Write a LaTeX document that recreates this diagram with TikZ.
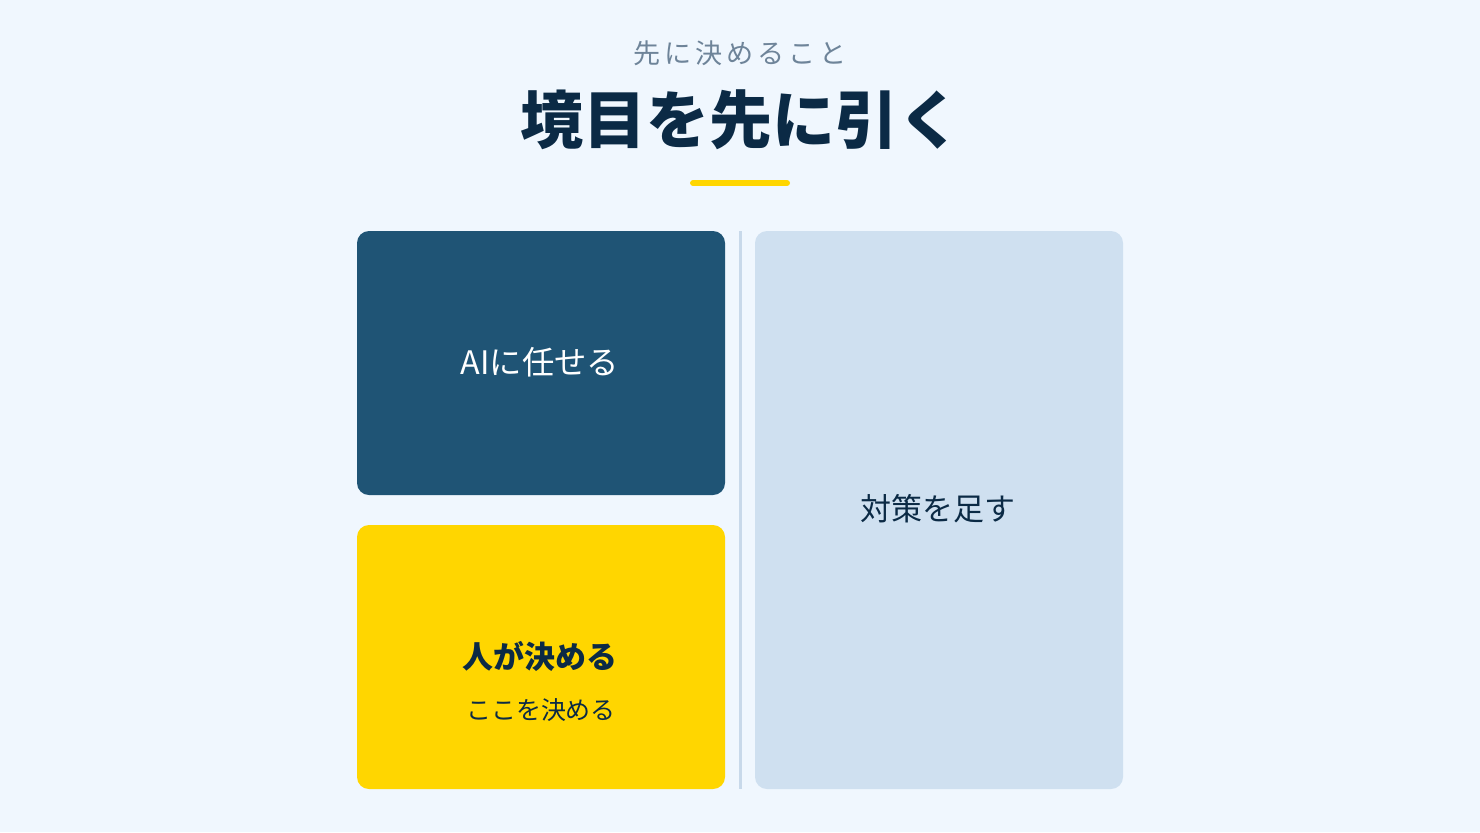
\documentclass[tikz,border=0pt]{standalone}
\usepackage{fontspec}
\setmainfont{Noto Sans CJK JP}
\newfontfamily\jpfont{Noto Sans CJK JP}
\definecolor{hintergrund}{HTML}{F0F7FE}
\definecolor{navy}{HTML}{0B2A45}
\definecolor{grau}{HTML}{6E8499}
\definecolor{gelb}{HTML}{FFD600}
\definecolor{dunkelblau}{HTML}{1F5475}
\definecolor{hellblau}{HTML}{CFE0F0}
\definecolor{linie}{HTML}{C8D9EA}
\tikzset{
	feld/.style={rounded corners=0.12cm},
	feldtext/.style={font=\jpfont\fontsize{8.8pt}{10pt}\selectfont, inner sep=0pt}
}
\begin{document}
\begin{tikzpicture}[x=0.01cm, y=-0.01cm]
		%Hintergrund
		\fill[hintergrund] (0,0) rectangle (1480,832);
		\useasboundingbox (0,0) rectangle (1480,832);
		%Titel
		\node[text=grau, font=\jpfont\addfontfeature{LetterSpace=14}\fontsize{7.7pt}{9pt}\selectfont] (unter) at (740,53) {先に決めること};
		\node[text=navy, font=\jpfont\bfseries\fontsize{17.9pt}{20pt}\selectfont] (titel) at (741,120) {境目を先に引く};
		\draw[gelb, line width=1.7pt, line cap=round] (693,183) -- (787,183);
		%Felder
		\fill[dunkelblau, feld] (357,231) rectangle (725,495);
		\fill[gelb, feld] (357,525) rectangle (725,789);
		\fill[hellblau, feld] (755,231) rectangle (1123,789);
		\draw[linie, line width=0.85pt] (740,231) -- (740,789);
		%Texte
		\node[feldtext, text=white, font=\jpfont\fontsize{9.2pt}{10pt}\selectfont] (ki) at (540,362) {AIに任せる};
		\node[feldtext, text=navy, font=\jpfont\bfseries\fontsize{8.8pt}{10pt}\selectfont] (mensch) at (540,656) {人が決める};
		\node[feldtext, text=navy, font=\jpfont\fontsize{7.1pt}{8pt}\selectfont] (hier) at (541,710) {ここを決める};
		\node[feldtext, text=navy] (massnahme) at (938,509) {対策を足す};
	\end{tikzpicture}
\end{document}
